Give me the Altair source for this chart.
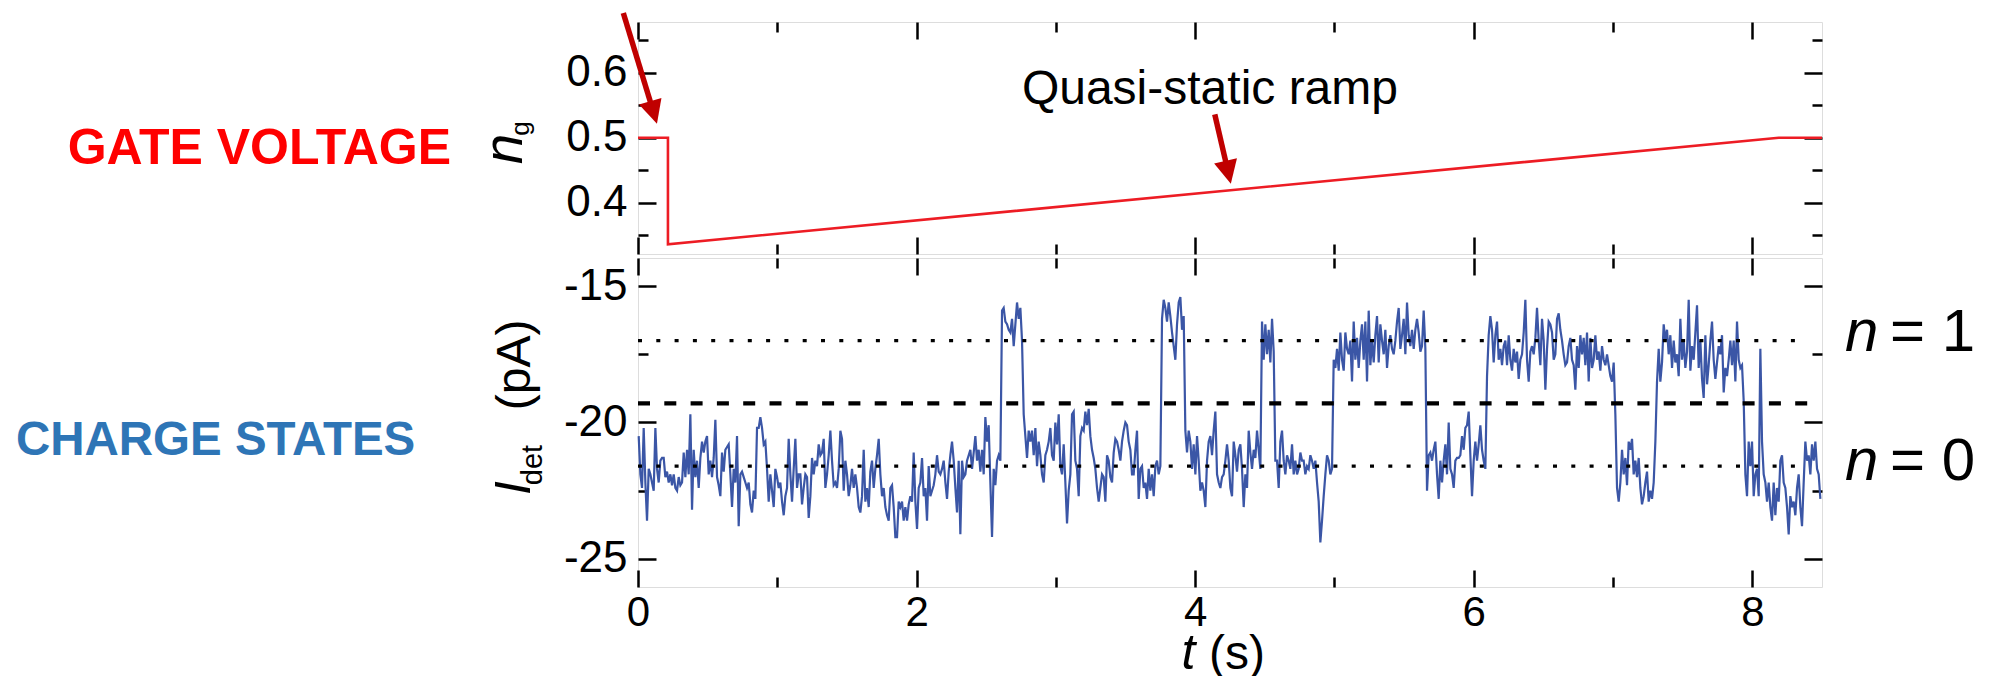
import altair as alt
import pandas as pd

# ------------------------------------------------------------------ data
# detector current I_det (pA), sampled every DT seconds starting at T0
T0 = 0.005
DT = 0.011965
I_SEG1 = [
    -20.5, -21.9, -22.4, -20.2, -22.2, -23.6, -21.7, -21.9, -22.2, -22.5,
    -20.2, -21.7, -22.2, -21.4, -21.3, -21.3, -22.0, -21.8, -22.2, -21.9,
    -22.3, -21.9, -22.4, -22.5, -22.0, -22.3, -22.2, -21.1, -22.0, -21.0,
    -21.9, -19.7, -23.2, -21.0, -22.0, -21.4, -22.4, -21.3, -20.7, -21.1,
    -20.7, -20.5, -21.9, -21.4, -22.0, -21.3, -19.9, -22.0, -22.3, -22.7,
    -21.1, -21.8, -21.0, -20.9, -20.8, -21.9, -23.1, -21.7, -22.2, -20.5,
    -23.8, -21.9, -21.8, -22.0, -22.2, -22.4, -22.2, -23.0, -23.3, -22.5,
    -22.8, -20.2, -20.2, -19.8, -20.2, -20.8, -20.7, -21.7, -22.9, -21.9,
    -22.5, -23.1, -21.7, -22.0, -22.4, -22.2, -22.9, -23.4, -22.7, -22.4,
    -20.6, -21.9, -22.9, -21.7, -20.6, -22.4, -21.9, -21.9, -23.0, -22.4,
    -21.9, -22.0, -23.5, -22.7, -21.3, -21.9, -21.4, -21.6, -20.8, -21.2,
    -21.1, -20.6, -22.4, -21.9, -21.2, -20.3, -21.4, -22.3, -22.2, -22.4,
    -21.7, -20.3, -20.6, -22.5, -21.4, -21.9, -22.7, -22.3, -21.7, -22.4,
    -21.9, -22.4, -23.1, -23.3, -22.7, -21.0, -22.9, -22.4, -23.1, -21.8,
    -21.4, -22.4, -21.7, -21.2, -20.6, -21.9, -22.7, -22.4, -23.1, -23.4,
    -23.6, -22.4, -22.3, -23.1, -24.2, -24.2, -22.9, -23.1, -22.9, -23.6,
    -23.1, -23.6, -23.0, -22.7, -22.9, -21.1, -22.9, -23.9, -22.4, -22.2,
    -21.3, -22.7, -22.4, -23.6, -21.6, -22.7,
]
I_SEG2 = [
    -22.5, -22.3, -21.9, -21.2, -21.8, -21.9, -21.7, -21.4, -22.2, -22.8,
    -21.8, -21.2, -20.7, -21.4, -22.4, -23.3, -21.4, -24.1, -21.4, -22.0,
    -21.9, -21.4, -21.2, -21.0, -21.7, -21.1, -20.5, -21.4, -21.0, -21.8,
    -21.0, -21.9, -19.8, -20.7, -20.1, -22.2, -24.2, -21.7, -22.3, -21.4,
    -21.2, -21.4, -15.9, -15.8, -16.3, -16.4, -16.6, -16.7, -16.2, -17.2,
    -16.4, -15.6, -16.2, -15.8, -17.0, -19.7, -20.5, -21.3, -20.3, -20.7,
    -20.3, -21.2, -20.2, -21.6, -20.7, -21.2, -21.9, -22.2, -21.2, -21.0,
    -20.7, -20.2, -21.2, -21.4, -20.0, -20.8, -19.7, -21.6, -21.9, -20.8,
    -22.2, -23.7, -22.5, -21.9, -19.7, -19.6, -21.4, -21.7, -22.7, -20.5,
    -20.2, -20.3, -19.6, -20.1, -19.5, -20.5, -21.0, -21.3, -21.7, -22.4,
    -22.9, -22.4, -21.9, -22.0, -22.9, -21.2, -21.4, -22.0, -22.2, -21.1,
    -20.6, -20.7, -21.0, -21.4, -20.7, -20.3, -20.0, -20.1, -20.7, -21.0,
    -21.9, -21.9, -21.0, -20.3, -22.8, -21.7, -21.6, -22.4, -22.2, -22.8,
    -21.7, -22.5, -21.9, -22.7, -21.6, -21.4, -21.9, -21.6, -16.2, -15.5,
    -15.8, -16.3, -15.6, -16.1, -16.7, -17.2, -17.7, -16.4, -15.6, -15.4,
    -16.6, -16.1, -20.3, -21.1, -20.3, -20.7, -21.7, -20.8, -21.9, -20.5,
    -21.4, -22.5, -22.2, -22.5, -23.1, -21.4, -20.7, -20.5, -21.2, -20.3,
    -19.6, -21.9, -22.2, -22.4, -22.0, -21.9, -21.4,
]
I_SEG3 = [
    -20.8, -21.4, -22.4, -22.7, -20.7, -21.2, -21.8, -21.0, -20.8, -21.7,
    -23.1, -21.9, -22.4, -20.3, -21.1, -21.7, -21.0, -21.3, -20.3, -21.0,
    -21.7, -16.3, -17.7, -16.4, -17.5, -16.6, -17.8, -16.2, -17.4, -21.4,
    -21.4, -22.4, -20.7, -20.3, -21.4, -21.9, -21.2, -21.4, -21.7, -20.8,
    -21.9, -21.4, -21.9, -21.7, -21.1, -21.4, -21.4, -21.9, -21.6, -21.7,
    -21.2, -21.4, -21.7, -21.4, -22.2, -22.9, -24.4, -23.6, -22.7, -21.9,
    -21.2, -21.4, -21.9, -21.7, -17.7, -18.0, -17.3, -18.1, -16.7, -17.7,
    -18.1, -16.7, -17.3, -17.5, -17.0, -18.5, -16.3, -17.7, -16.9, -18.0,
    -17.0, -16.4, -17.7, -16.3, -18.5, -15.9, -17.9, -17.0, -17.8, -16.8,
    -16.1, -17.8, -16.4, -17.0, -17.5, -16.6, -18.0, -17.2, -16.8, -17.3,
    -17.5, -17.0, -16.3, -15.8, -17.3, -16.8, -16.2, -17.5, -15.6, -16.8,
    -17.2, -16.6, -17.3, -16.6, -16.2, -16.7, -17.4, -17.2, -15.9, -17.3,
    -22.5, -21.2, -21.1, -21.4, -21.0, -20.7, -21.9, -22.8, -21.4, -22.2,
    -21.4, -20.8, -21.9, -20.0, -21.7, -21.9, -22.4, -21.4, -21.3, -21.3,
    -21.2, -20.5, -21.0, -20.2, -20.1, -19.6, -21.2, -22.7, -21.4, -20.7,
    -21.4, -20.8, -20.1, -21.0, -21.4, -21.7, -18.3, -16.8, -16.1, -16.6,
    -17.8, -16.8, -16.3, -17.7, -17.3, -17.9, -17.2, -17.0, -17.9, -16.8,
    -17.7, -18.1, -17.3, -17.8, -17.4, -18.4, -17.7,
]
I_SEG4 = [
    -17.5, -16.7, -15.5, -17.7, -18.5, -17.4, -17.2, -17.5, -16.9, -15.8,
    -17.0, -17.9, -16.2, -17.0, -18.8, -17.3, -16.3, -16.4, -16.7, -17.7,
    -17.5, -16.2, -16.0, -16.6, -17.0, -17.5, -17.9, -17.8, -17.2, -16.9,
    -17.7, -17.9, -18.8, -17.2, -18.0, -16.8, -17.5, -16.9, -17.9, -16.7,
    -18.5, -16.9, -18.0, -17.7, -16.8, -17.7, -17.4, -18.1, -17.2, -17.7,
    -17.9, -17.5, -17.9, -18.3, -18.5, -17.8, -19.7, -22.4, -22.9, -22.2,
    -21.0, -21.9, -21.3, -22.3, -20.7, -21.0, -20.6, -21.9, -21.4, -22.0,
    -21.3, -22.4, -23.0, -22.7, -22.2, -21.8, -22.9, -22.5, -22.8, -22.2,
    -20.7, -18.5, -17.3, -18.5, -17.8, -16.4, -17.0, -16.6, -17.5, -16.8,
    -18.0, -17.0, -17.8, -17.5, -18.3, -16.2, -17.7, -17.0, -18.0, -17.4,
    -15.5, -18.1, -17.2, -17.7, -16.7, -15.7, -18.0, -17.0, -18.4, -19.1,
    -16.8, -18.6, -17.9, -17.0, -16.3, -17.7, -18.4, -17.8, -17.2, -17.5,
    -16.8, -18.9, -18.0, -18.3, -17.7, -17.0, -17.9, -17.0, -18.5, -16.3,
    -17.7, -18.0, -17.9, -19.2, -21.9, -22.7, -20.7, -21.6, -20.7, -22.7,
    -21.9, -21.7, -22.7, -17.3, -20.7, -21.9, -22.2, -22.9, -22.2, -23.1,
    -23.6, -22.2, -23.4, -22.4, -22.9, -21.4, -21.2, -22.2, -22.4, -23.1,
    -24.1, -22.7, -23.1, -22.9, -23.4, -22.4, -21.9, -23.1, -23.8, -22.2,
    -20.7, -21.4, -21.2, -21.9, -20.8, -21.4, -20.7, -21.7, -21.9, -22.8,
]
I_DET = I_SEG1 + I_SEG2 + I_SEG3 + I_SEG4
T_DET = [round(T0 + i * DT, 4) for i in range(len(I_DET))]

# gate charge n_g : step down then quasi-static ramp
GATE_T = [0.0, 0.215, 0.215, 8.19, 8.5]
GATE_NG = [0.5, 0.5, 0.336, 0.5, 0.5]

# reference current levels
LEVEL_KIND = ["dotted", "dashed", "dotted"]
LEVEL_I = [-17.0, -19.3, -21.6]
LEVEL_T_START = 0.0
LEVEL_T_END = 8.4

# axes
T_DOMAIN = [0.0, 8.5]
NG_DOMAIN = [0.321, 0.678]
I_DOMAIN = [-26.03, -13.97]
T_MAJOR = [0, 2, 4, 6, 8]
T_MINOR = [1, 3, 5, 7]
NG_MAJOR = [0.4, 0.5, 0.6]
NG_MINOR = [0.35, 0.45, 0.55, 0.65]
I_MAJOR = [-25, -20, -15]
I_MINOR = [-22.5, -17.5]

# annotations (data coordinates)
ARROW_T0 = [-0.1055, 4.1407]
ARROW_NG0 = [0.6918, 0.536]
ARROW_T1 = [0.112, 4.237]
ARROW_NG1 = [0.5388, 0.4468]
ARROW_ANGLE = [343.3, 347.0]

FONT = "Liberation Sans, Arial, Helvetica, sans-serif"
RED = "#ED1C24"
DARKRED = "#C00000"
BLUE = "#3B56A6"
LABELBLUE = "#2E75B6"

W = 1184
H_TOP = 232
H_BOT = 329

MAJ = 18   # major tick length (px, drawn inward)
MIN = 10   # minor tick length


def ts():
    return alt.Scale(domain=T_DOMAIN, nice=False, zero=False)


def ngs():
    return alt.Scale(domain=NG_DOMAIN, nice=False, zero=False)


def iss():
    return alt.Scale(domain=I_DOMAIN, nice=False, zero=False)


def ax(orient, values, size, labels=False, fs=44, gap=11):
    kw = dict(orient=orient, values=values, tickSize={"expr": str(-size)},
              tickWidth=2.5, tickColor="black", domain=False, grid=False,
              title=None, labels=labels)
    if labels:
        kw.update(labelFont=FONT, labelFontSize=fs, labelColor="black",
                  labelPadding=gap + size, labelExpr="'' + datum.value",
                  labelFlush=False, labelOverlap=False)
    return alt.Axis(**kw)


def text_layer(df, yscale, yfield, **mk):
    return alt.Chart(df).mark_text(clip=False, font=FONT, **mk).encode(
        x=alt.X("t:Q", scale=ts(), axis=None),
        y=alt.Y(f"{yfield}:Q", scale=yscale, axis=None),
        text="s:N",
    )


# ------------------------------------------------------------ top panel
gate_df = pd.DataFrame({"t": GATE_T, "ng": GATE_NG})

gate_line = alt.Chart(gate_df).mark_line(color=RED, strokeWidth=2.6).encode(
    x=alt.X("t:Q", scale=ts(), axis=ax("bottom", T_MAJOR, 17)),
    y=alt.Y("ng:Q", scale=ngs(), axis=ax("left", NG_MAJOR, MAJ, labels=True, fs=44, gap=11)),
)
top_ghosts = []
for xo, xv, xs, yo, yv, ys in [
    ("bottom", T_MINOR, MIN, "left", NG_MINOR, MIN),
    ("top", T_MAJOR, 17, "right", NG_MAJOR, MAJ),
    ("top", T_MINOR, MIN, "right", NG_MINOR, MIN),
]:
    top_ghosts.append(
        alt.Chart(gate_df).mark_line(opacity=0).encode(
            x=alt.X("t:Q", scale=ts(), axis=ax(xo, xv, xs)),
            y=alt.Y("ng:Q", scale=ngs(), axis=ax(yo, yv, ys)),
        )
    )

arrow_df = pd.DataFrame({"t0": ARROW_T0, "n0": ARROW_NG0, "t1": ARROW_T1,
                         "n1": ARROW_NG1, "ang": ARROW_ANGLE})
arrow_shaft = alt.Chart(arrow_df).mark_rule(color=DARKRED, strokeWidth=5.5, clip=False).encode(
    x=alt.X("t0:Q", scale=ts(), axis=None),
    x2="t1:Q",
    y=alt.Y("n0:Q", scale=ngs(), axis=None),
    y2="n1:Q",
)
arrow_head = alt.Chart(arrow_df).mark_point(
    shape="M -1 -1 L 1 -1 L 0 1 Z", filled=True, color=DARKRED, opacity=1,
    size=548, strokeWidth=0, clip=False,
).encode(
    x=alt.X("t1:Q", scale=ts(), axis=None),
    y=alt.Y("n1:Q", scale=ngs(), axis=None),
    angle=alt.Angle("ang:Q", scale=None),
)

gate_label = text_layer(pd.DataFrame({"t": [-1.3424], "ng": [0.4595], "s": ["GATE VOLTAGE"]}),
                        ngs(), "ng", fontSize=50, fontWeight="bold", color="#FF0000",
                        align="right", baseline="alphabetic")
ramp_label = text_layer(pd.DataFrame({"t": [4.106], "ng": [0.5514], "s": ["Quasi-static ramp"]}),
                        ngs(), "ng", fontSize=48, color="black", align="center",
                        baseline="alphabetic")
ng_n = text_layer(pd.DataFrame({"t": [-0.8327], "ng": [0.4826], "s": ["n"]}),
                  ngs(), "ng", fontSize=55, fontStyle="italic", color="black",
                  align="center", baseline="alphabetic", angle=270)
ng_g = text_layer(pd.DataFrame({"t": [-0.786], "ng": [0.5142], "s": ["g"]}),
                  ngs(), "ng", fontSize=26, color="black",
                  align="center", baseline="alphabetic", angle=270)

top = alt.layer(
    gate_line, *top_ghosts, arrow_shaft, arrow_head, gate_label, ramp_label, ng_n, ng_g
).resolve_axis(x="independent", y="independent").properties(width=W, height=H_TOP)

# --------------------------------------------------------- bottom panel
det_df = pd.DataFrame({"t": T_DET, "i": I_DET})
lvl_df = pd.DataFrame({"kind": LEVEL_KIND, "i": LEVEL_I,
                       "t0": [LEVEL_T_START] * 3, "t1": [LEVEL_T_END] * 3})

det_line = alt.Chart(det_df).mark_line(color=BLUE, strokeWidth=2.2).encode(
    x=alt.X("t:Q", scale=ts(), axis=ax("bottom", T_MAJOR, 17, labels=True, fs=42, gap=5)),
    y=alt.Y("i:Q", scale=iss(), axis=ax("left", I_MAJOR, MAJ, labels=True, fs=44, gap=11)),
)
bot_ghosts = []
for xo, xv, xs, yo, yv, ys in [
    ("bottom", T_MINOR, MIN, "left", I_MINOR, MIN),
    ("top", T_MAJOR, 17, "right", I_MAJOR, MAJ),
    ("top", T_MINOR, MIN, "right", I_MINOR, MIN),
]:
    bot_ghosts.append(
        alt.Chart(lvl_df).mark_point(opacity=0).encode(
            x=alt.X("t0:Q", scale=ts(), axis=ax(xo, xv, xs)),
            y=alt.Y("i:Q", scale=iss(), axis=ax(yo, yv, ys)),
        )
    )

dotted = alt.Chart(lvl_df).transform_filter("datum.kind == 'dotted'").mark_rule(
    color="black", strokeWidth=3.3, strokeDash=[4, 14.3]
).encode(
    x=alt.X("t0:Q", scale=ts(), axis=None), x2="t1:Q",
    y=alt.Y("i:Q", scale=iss(), axis=None),
)
dashed = alt.Chart(lvl_df).transform_filter("datum.kind == 'dashed'").mark_rule(
    color="black", strokeWidth=4.3, strokeDash=[12, 14.3]
).encode(
    x=alt.X("t0:Q", scale=ts(), axis=None), x2="t1:Q",
    y=alt.Y("i:Q", scale=iss(), axis=None),
)

charge_label = text_layer(pd.DataFrame({"t": [-1.599], "i": [-21.19], "s": ["CHARGE STATES"]}),
                          iss(), "i", fontSize=47.5, fontWeight="bold", color=LABELBLUE,
                          align="right", baseline="alphabetic")
n_italic = text_layer(pd.DataFrame({"t": [8.665, 8.665], "i": [-17.37, -22.11], "s": ["n", "n"]}),
                      iss(), "i", fontSize=60, fontStyle="italic", color="black",
                      align="left", baseline="alphabetic")
n_value = text_layer(pd.DataFrame({"t": [8.988, 8.988], "i": [-17.37, -22.11], "s": ["= 1", "= 0"]}),
                     iss(), "i", fontSize=60, color="black",
                     align="left", baseline="alphabetic")
idet_I = text_layer(pd.DataFrame({"t": [-0.778], "i": [-22.40], "s": ["I"]}),
                    iss(), "i", fontSize=50, fontStyle="italic", color="black",
                    align="center", baseline="alphabetic", angle=270)
idet_sub = text_layer(pd.DataFrame({"t": [-0.689], "i": [-21.56], "s": ["det"]}),
                      iss(), "i", fontSize=29, color="black",
                      align="center", baseline="alphabetic", angle=270)
idet_unit = text_layer(pd.DataFrame({"t": [-0.775], "i": [-17.89], "s": ["(pA)"]}),
                       iss(), "i", fontSize=48, color="black",
                       align="center", baseline="alphabetic", angle=270)
t_title = text_layer(pd.DataFrame({"t": [3.951], "i": [-29.03], "s": ["t"]}),
                     iss(), "i", fontSize=50, fontStyle="italic", color="black",
                     align="center", baseline="alphabetic")
t_unit = text_layer(pd.DataFrame({"t": [4.30], "i": [-29.03], "s": ["(s)"]}),
                    iss(), "i", fontSize=48, color="black",
                    align="center", baseline="alphabetic")

bottom = alt.layer(
    det_line, *bot_ghosts, dotted, dashed, charge_label, n_italic, n_value,
    idet_I, idet_sub, idet_unit, t_title, t_unit
).resolve_axis(x="independent", y="independent").properties(width=W, height=H_BOT)

chart = alt.vconcat(top, bottom, spacing=0).resolve_scale(
    x="independent", y="independent"
).properties(
    padding={"left": 7, "top": 1, "right": 5, "bottom": 2}
).configure_view(stroke="black", strokeWidth=3).configure(background="white")

chart.save("out.html", embed_options={"renderer": "svg", "actions": False})
